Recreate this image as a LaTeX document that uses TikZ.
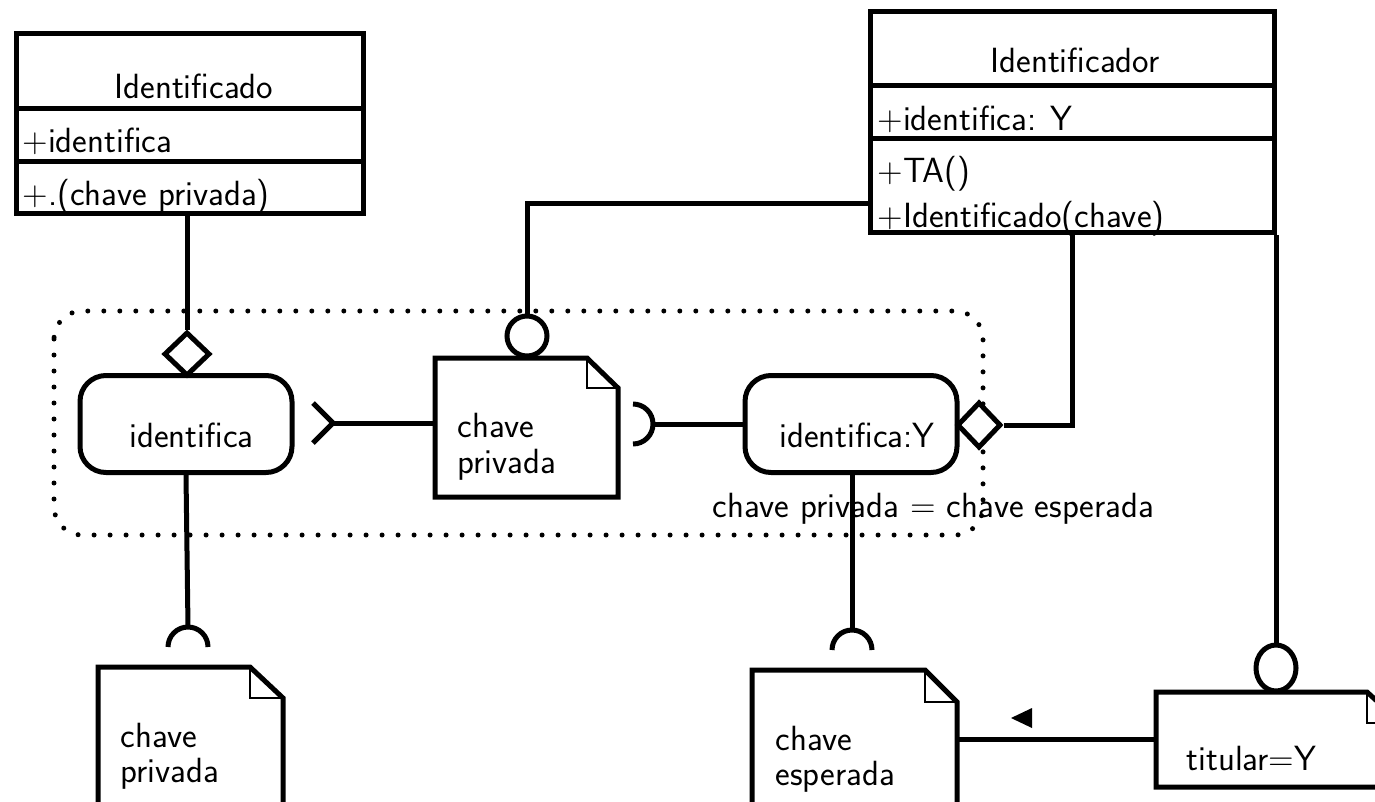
\documentclass[tikz,border=0pt]{standalone}
\usepackage{fontspec}
\usetikzlibrary{shapes.geometric}

% folded-corner note outline around a named (undrawn) node
\newcommand\foldnote[3]{%
  \draw (#1.north west) -- ([xshift=-#2]#1.north east) -- ([yshift=-#3]#1.north east)
        -- (#1.south east) -- (#1.south west) -- cycle;
  \draw[line width=2pt] ([xshift=-#2]#1.north east) |- ([yshift=-#3]#1.north east);
}

\begin{document}
\begin{tikzpicture}[x=1pt,y=-1pt,line width=5pt,
  font=\sffamily\fontsize{35}{42}\selectfont,
  box/.style={draw,inner sep=0pt,anchor=north west},
  notebox/.style={inner sep=0pt,anchor=north west},
  lbl/.style={inner sep=0pt,anchor=base west},
  action/.style={draw,rounded corners=26pt,minimum width=212pt,minimum height=97pt,inner sep=0pt},
  agg/.style={draw,fill=white,diamond,inner sep=0pt},
  frame/.style={line width=5pt,line cap=round,dash pattern=on 0pt off 16pt,rounded corners=28pt}]
\useasboundingbox (0,0) rectangle (1375,801);

% class Identificado
\node[box,minimum width=347pt,minimum height=75pt] (c1a) at (14,31) {};
\node[box,minimum width=347pt,minimum height=53pt] (c1b) at (14,106) {};
\node[box,minimum width=347pt,minimum height=52pt] (c1c) at (14,159) {};
\node[lbl] (c1t) at (112,98) {Identificado};
\node[lbl] (c1p) at (20,152) {+identifica};
\node[lbl] (c1m) at (20,205) {+.(chave privada)};

% class Identificador
\node[box,minimum width=404pt,minimum height=74pt] (c2a) at (868,9) {};
\node[box,minimum width=404pt,minimum height=53pt] (c2b) at (868,83) {};
\node[box,minimum width=404pt,minimum height=94pt] (c2c) at (868,136) {};
\node[lbl] (c2t) at (988,72) {Identificador};
\node[lbl] (c2p) at (875,130) {+identifica: Y};
\node[lbl] (c2m) at (875,182) {+TA()};
\node[lbl] (c2n) at (875,227) {+Identificado(chave)};

% group frame
\draw[frame] (54,311) rectangle (983,535);

% actions
\node[action] (a1) at (186,424) {};
\node[lbl] (a1t) at (127,447) {identifica};
\node[action] (a2) at (851,424) {};
\node[lbl] (a2t) at (777,447) {identifica:Y};
\node[lbl] (cond) at (710,517) {chave privada = chave esperada};

% aggregation diamonds
\node[agg,minimum width=46pt,minimum height=44pt] (d1) at (187,354) {};
\node[agg,minimum width=44pt,minimum height=46pt] (d2) at (979,425) {};

% notes
\node[notebox,minimum width=180pt,minimum height=136pt] (n1) at (98,667) {};
\foldnote{n1}{33pt}{31pt}
\node[lbl] (n1a) at (118,747) {chave};
\node[lbl] (n1b) at (118,782) {privada};

\node[notebox,minimum width=178pt,minimum height=134pt] (n2) at (435,358) {};
\foldnote{n2}{31pt}{30pt}
\node[lbl] (n2a) at (455,437) {chave};
\node[lbl] (n2b) at (455,473) {privada};

\node[notebox,minimum width=200pt,minimum height=133pt] (n3) at (752,670) {};
\foldnote{n3}{32pt}{32pt}
\node[lbl] (n3a) at (773,750) {chave};
\node[lbl] (n3b) at (773,785) {esperada};

\node[notebox,minimum width=240pt,minimum height=90pt] (n4) at (1156,692) {};
\foldnote{n4}{34pt}{31pt}
\node[lbl] (n4a) at (1184,770) {titular=Y};

% lollipops
\node[draw,circle,minimum size=40pt,inner sep=0pt] (l1) at (527,336) {};
\node[draw,ellipse,minimum width=40pt,minimum height=46pt,inner sep=0pt] (l2) at (1276,668) {};

% connectors
\draw (d1.north) -- (d1.north |- c1c.south);
\coordinate (s1) at (188,627);
\draw (a1.south) -- (s1);
\draw ([xshift=-20pt,yshift=-20pt]s1) arc[start angle=180,end angle=0,radius=20pt];

\coordinate (ch) at (333,423);
\draw ([shift={(-20,-20)}]ch) -- (ch) -- ([shift={(-20,20)}]ch);
\draw (ch) -- (ch -| n2.west);

\coordinate (s3) at (633,404);
\draw (s3) arc[start angle=90,end angle=-90,radius=20pt];
\coordinate (s3e) at (653,424);
\draw (s3e) -- (s3e -| a2.west);

\coordinate (k1) at (868,203);
\draw (l1.north) -- (l1.north |- k1) -- (k1);

\coordinate (r1) at (1072,230);
\draw (d2.east) -| (r1);

\draw (l2.north) -- (l2.north |- c2c.south);

\coordinate (s2) at (852,630);
\draw (a2.south -| s2) -- (s2);
\draw ([xshift=-20pt,yshift=-20pt]s2) arc[start angle=180,end angle=0,radius=20pt];

\draw (n4.west) -- (n4.west -| n3.east);
\fill (1011,718) -- (1032,708) -- (1032,728) -- cycle;
\end{tikzpicture}
\end{document}
